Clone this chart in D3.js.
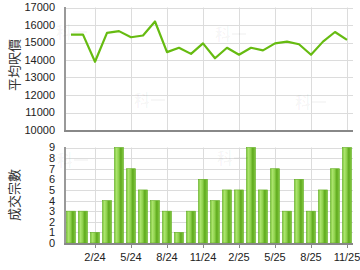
<!DOCTYPE html>
<html lang="zh-Hant">
  <head>
    <meta charset="UTF-8" />
    <title>平均呎價 / 成交宗數</title>
    <script src="https://d3js.org/d3.v7.min.js"></script>
    <style>
      body {
        margin: 0;
        background: #fff;
      }
      svg {
        display: block;
      }
      .tick-label {
        font-family: "Liberation Sans", Arial, sans-serif;
        font-size: 11px;
        fill: #222;
      }
      .axis-title {
        font-family: "Noto Sans CJK TC", sans-serif;
        font-size: 13px;
        fill: #333;
      }
      .grid line {
        stroke: #dcdcdc;
        stroke-width: 1px;
      }
      .watermark {
        font-family: "Noto Sans CJK TC", sans-serif;
        font-size: 16px;
        font-weight: bold;
        fill: #000;
        fill-opacity: 0.035;
      }
    </style>
  </head>
  <body>
    <svg id="chart" width="360" height="270"></svg>

    <script>
      // meses: 12/23 .. 11/25
      const months = [
        "12/23", "1/24", "2/24", "3/24", "4/24", "5/24", "6/24", "7/24",
        "8/24", "9/24", "10/24", "11/24", "12/24", "1/25", "2/25", "3/25",
        "4/25", "5/25", "6/25", "7/25", "8/25", "9/25", "10/25", "11/25",
      ];
      // 平均呎價
      const avgPrice = [
        15450, 15450, 13900, 15550, 15650, 15300, 15400, 16200,
        14450, 14700, 14350, 14950, 14100, 14700, 14300, 14700,
        14550, 14950, 15050, 14900, 14300, 15050, 15600, 15150,
      ];
      // 成交宗數
      const deals = [
        3, 3, 1, 4, 9, 7, 5, 4, 3, 1, 3, 6,
        4, 5, 5, 9, 5, 7, 3, 6, 3, 5, 7, 9,
      ];
      const xTickLabels = ["2/24", "5/24", "8/24", "11/24", "2/25", "5/25", "8/25", "11/25"];
      const priceTicks = [10000, 11000, 12000, 13000, 14000, 15000, 16000, 17000];
      const dealTicks = [0, 1, 2, 3, 4, 5, 6, 7, 8, 9];

      const svg = d3.select("#chart");
      const left = 65, right = 353;

      const x = d3.scaleBand().domain(months).range([left, right]);
      const cx = (m) => x(m) + x.bandwidth() / 2;

      const yTop = d3.scaleLinear().domain([10000, 17000]).range([130, 7.5]);
      const yBot = d3.scaleLinear().domain([0, 9]).range([243, 147.5]);

      // degradado de las barras
      const grad = svg.append("defs").append("linearGradient").attr("id", "barGrad");
      [
        [0, "#74c22f"],
        [0.2, "#ade56f"],
        [0.45, "#90d24e"],
        [0.7, "#5ea91c"],
        [1, "#86cc45"],
      ].forEach(([o, c]) => grad.append("stop").attr("offset", o).attr("stop-color", c));

      function panel(y, ticks, fmt) {
        const g = svg.append("g");
        // rejilla horizontal
        g.append("g").attr("class", "grid")
          .selectAll("line").data(ticks).join("line")
          .attr("x1", left).attr("x2", right)
          .attr("y1", (d) => Math.round(y(d)) + 0.5).attr("y2", (d) => Math.round(y(d)) + 0.5);
        // rejilla vertical
        g.append("g").attr("class", "grid")
          .selectAll("line").data(xTickLabels).join("line")
          .attr("x1", (d) => Math.round(cx(d)) + 0.5).attr("x2", (d) => Math.round(cx(d)) + 0.5)
          .attr("y1", y.range()[1]).attr("y2", y.range()[0]);
        // etiquetas eje y
        g.selectAll("text.tick-label").data(ticks).join("text")
          .attr("class", "tick-label")
          .attr("x", 55)
          .attr("y", (d) => y(d))
          .attr("dy", "0.36em")
          .attr("text-anchor", "end")
          .text(fmt);
        return g;
      }

      // ---------- panel superior ----------
      panel(yTop, priceTicks, (d) => d);

      svg.append("path")
        .datum(avgPrice)
        .attr("fill", "none")
        .attr("stroke", "#66bb11")
        .attr("stroke-width", 2.2)
        .attr("stroke-linejoin", "round")
        .attr("d", d3.line().x((d, i) => cx(months[i])).y((d) => yTop(d)));

      // ---------- panel inferior ----------
      panel(yBot, dealTicks, (d) => d);

      svg.append("g")
        .selectAll("rect").data(deals).join("rect")
        .attr("x", (d, i) => cx(months[i]) - 4.5)
        .attr("width", 9)
        .attr("y", (d) => yBot(d))
        .attr("height", (d) => yBot(0) - yBot(d))
        .attr("fill", "url(#barGrad)")
        .attr("stroke", "#62ad22")
        .attr("stroke-width", 0.6);

      // ejes
      svg.append("line").attr("x1", left).attr("x2", left).attr("y1", 7).attr("y2", 131)
        .attr("stroke", "#999").attr("stroke-width", 2);
      svg.append("line").attr("x1", left - 1).attr("x2", right).attr("y1", 131).attr("y2", 131)
        .attr("stroke", "#888").attr("stroke-width", 2);
      svg.append("line").attr("x1", left).attr("x2", left).attr("y1", 147).attr("y2", 244)
        .attr("stroke", "#999").attr("stroke-width", 2);
      svg.append("line").attr("x1", left - 1).attr("x2", right).attr("y1", 244).attr("y2", 244)
        .attr("stroke", "#888").attr("stroke-width", 2);

      // marcas y etiquetas eje x
      svg.append("g").selectAll("line").data(xTickLabels).join("line")
        .attr("x1", (d) => Math.round(cx(d)) + 0.5).attr("x2", (d) => Math.round(cx(d)) + 0.5)
        .attr("y1", 244).attr("y2", 248)
        .attr("stroke", "#888");
      svg.append("g").selectAll("text").data(xTickLabels).join("text")
        .attr("class", "tick-label")
        .attr("x", (d) => cx(d))
        .attr("y", 261)
        .attr("text-anchor", "middle")
        .text((d) => d);

      // títulos de ejes
      svg.append("text").attr("class", "axis-title")
        .attr("transform", "translate(19,65) rotate(-90)")
        .attr("text-anchor", "middle")
        .text("平均呎價");
      svg.append("text").attr("class", "axis-title")
        .attr("transform", "translate(19,195) rotate(-90)")
        .attr("text-anchor", "middle")
        .text("成交宗數");

      // marcas de agua
      const marks = [[56, 38], [134, 106], [215, 40], [295, 108], [57, 166], [217, 164]];
      svg.append("g").selectAll("text").data(marks).join("text")
        .attr("class", "watermark")
        .attr("x", (d) => d[0]).attr("y", (d) => d[1])
        .text("科一");
    </script>
  </body>
</html>
